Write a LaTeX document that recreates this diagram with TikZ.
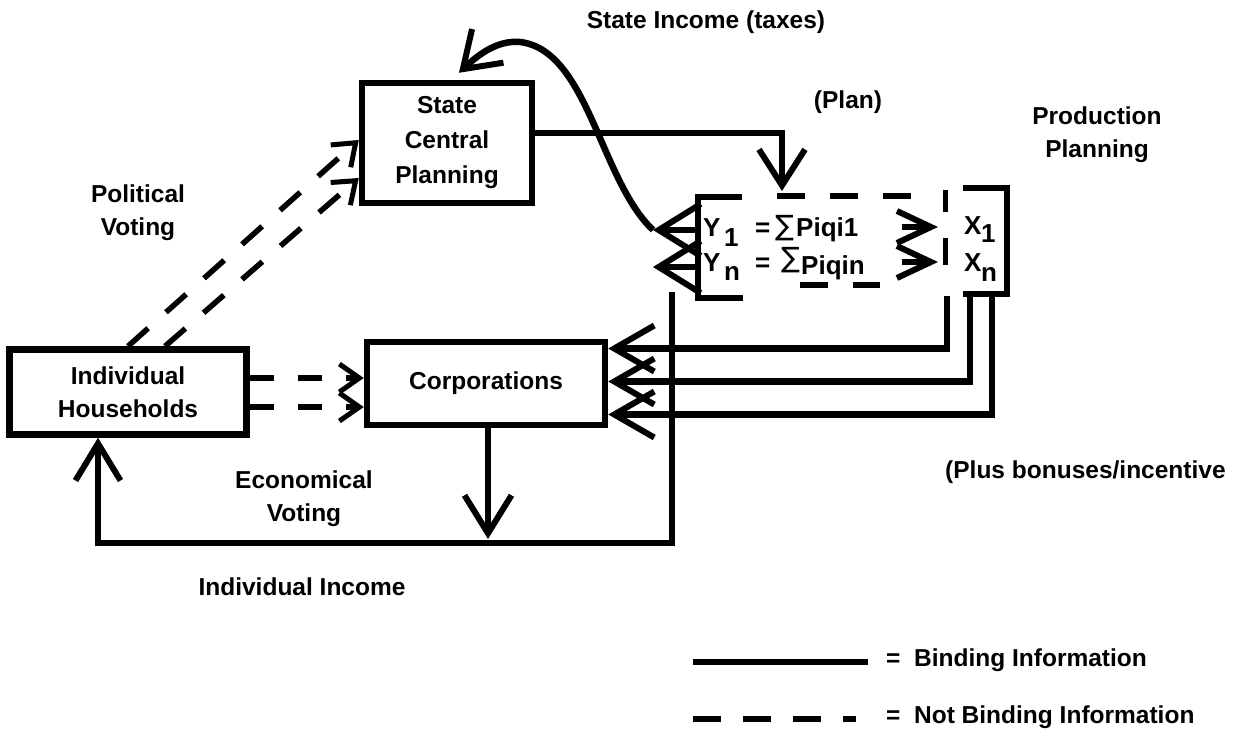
\documentclass[tikz,border=0pt]{standalone}
\usepackage{fontspec}
\setmainfont{Liberation Sans}
\newfontfamily\symfont{DejaVu Sans}
\usetikzlibrary{arrows.meta}
\tikzset{
  tipPlan/.tip={Straight Barb[length=36pt,width=46pt,line width=6pt]},
  tipY/.tip={Straight Barb[length=42pt,width=52pt,line width=6pt]},
  tipTax/.tip={Straight Barb[length=34pt,width=46pt,line width=6pt]},
  tipHH/.tip={Straight Barb[length=37pt,width=45pt,line width=6pt]},
  tipDown/.tip={Straight Barb[length=38pt,width=47pt,line width=6pt]},
  tipC/.tip={Straight Barb[length=40pt,width=46pt,line width=6pt]},
  tipS/.tip={Straight Barb[length=20pt,width=28pt,line width=5pt]},
  tipV/.tip={Straight Barb[length=20pt,width=30pt,line width=5pt]},
  tipX/.tip={Straight Barb[length=34pt,width=32pt,line width=6pt]},
  bind/.style={line width=6.5pt},
  frame/.style={line width=6pt},
  nbind/.style={line width=5.5pt, dash pattern=on 24pt off 24pt},
  nbindD/.style={line width=5.5pt, dash pattern=on 27pt off 24pt},
  dashframe/.style={line width=5.5pt, dash pattern=on 28pt off 25pt},
  box/.style={draw, line width=6.5pt, inner sep=0pt, align=center},
  lbl/.style={align=center, inner sep=0pt},
  eq/.style={anchor=base west, inner sep=0pt, font=\fontsize{26}{26}\selectfont\bfseries},
  sig/.style={anchor=base west, inner sep=0pt, font=\fontsize{28}{28}\selectfont\symfont}
}
\begin{document}
\begin{tikzpicture}[x=1pt,y=-1pt,font=\fontsize{24.5}{33}\selectfont\bfseries]
\useasboundingbox (0,0) rectangle (1251,745);

% boxes
\node[box, minimum width=170pt, minimum height=120pt, font=\fontsize{24.5}{35}\selectfont\bfseries] (scp) at (447,143) {State\\Central\\Planning};
\node[box, minimum width=237pt, minimum height=85pt] (hh) at (128,392) {Individual\\Households};
\node[box, minimum width=238pt, minimum height=83pt] (corp) at (486,383.5) {Corporations};

% labels
\node[lbl] (tax) at (706,22) {State Income (taxes)};
\node[lbl] (plan) at (848,102) {(Plan)};
\node[lbl] (prod) at (1097,135) {Production\\Planning};
\node[lbl] (pol) at (138,213) {Political\\Voting};
\node[lbl] (eco) at (304,499) {Economical\\Voting};
\node[lbl] (inc) at (302,587) {Individual Income};
\node[lbl, anchor=west] (plus) at (945,472) {(Plus bonuses/incentive};

% equations
\node[eq] (y1) at (703,236) {Y};
\node[eq] (y1s) at (724,246) {1};
\node[eq] (e1) at (755,236) {=};
\node[sig] (s1) at (775,235) {∑};
\node[eq] (p1) at (796,236) {Piqi1};
\node[eq] (yn) at (703,271) {Y};
\node[eq] (yns) at (724,280) {n};
\node[eq] (en) at (755,271) {=};
\node[sig] (sn) at (781,267) {∑};
\node[eq] (pn) at (801,274) {Piqin};
\node[eq] (x1) at (964,234) {X};
\node[eq] (x1s) at (981,242) {1};
\node[eq] (xn) at (964,271) {X};
\node[eq] (xns) at (981,281) {n};

% Y / X frame
\coordinate (yf1) at (742,197); \coordinate (yf2) at (698,197);
\coordinate (yf3) at (698,298); \coordinate (yf4) at (743,298);
\draw[frame] (yf1) -- (yf2) -- (yf3) -- (yf4);
\coordinate (xf1) at (963,188); \coordinate (xf2) at (1007,188);
\coordinate (xf3) at (1007,294); \coordinate (xf4) at (963,294);
\draw[frame] (xf1) -- (xf2) -- (xf3) -- (xf4);
\coordinate (td1) at (777,196); \coordinate (td2) at (912,196);
\draw[dashframe] (td1) -- (td2);
\coordinate (bd1) at (800,285); \coordinate (bd2) at (880,285);
\draw[dashframe] (bd1) -- (bd2);
\coordinate (dv1) at (945,190); \coordinate (dv2) at (945,212);
\coordinate (dv3) at (945,238); \coordinate (dv4) at (945,265);
\draw[line width=5pt] (dv1) -- (dv2);
\draw[line width=5pt] (dv3) -- (dv4);

% inner arrows Y -> X
\coordinate (ia1) at (902,227); \coordinate (ib1) at (938,227);
\coordinate (ia2) at (902,262); \coordinate (ib2) at (938,262);
\draw[bind,-{tipX}] (ia1) -- (ib1);
\draw[bind,-{tipX}] (ia2) -- (ib2);

% plan arrow
\coordinate (planT) at (782,191);
\draw[bind,-{tipPlan}] ([yshift=10pt]scp.east) -| (planT);

% Y chevrons
\coordinate (y1e) at (698,230); \coordinate (y1t) at (653,230);
\coordinate (yne) at (698,267); \coordinate (ynt) at (653,267);
\draw[bind,-{tipY}] (y1e) -- (y1t);
\draw[bind,-{tipY}] (yne) -- (ynt);

% state income curve
\coordinate (taxT) at ([xshift=12pt,yshift=7pt]scp.north);
\draw[bind,-{tipTax}] (y1t) .. controls (600,180) and (588,50) .. (520,42)
      .. controls (497,40) and (478,55) .. (taxT);

% individual income loop
\coordinate (vtop) at (672,292);
\coordinate (botR) at (672,543); \coordinate (botL) at (98,543);
\coordinate (hhT) at ([xshift=-30pt]hh.south);
\draw[bind,-{tipHH}] (vtop) -- (botR) -- (botL) -- (hhT);

% corporations down
\coordinate (cdT) at (488,539);
\draw[bind,-{tipDown}] ([xshift=2pt]corp.south) -- (cdT);

% production planning -> corporations
\coordinate (x1b) at (947,296); \coordinate (x2b) at (970,296); \coordinate (x3b) at (992,296);
\draw[bind,-{tipC}] (x1b) |- ([yshift=35pt]corp.east);
\draw[bind,-{tipC}] (x2b) |- ([yshift=2pt]corp.east);
\draw[bind,-{tipC}] (x3b) |- ([yshift=-31pt]corp.east);

% economical voting (dashed)
\draw[nbind,-{tipS}] ([yshift=14pt]hh.east) -- ([yshift=14pt]hh.east -| corp.west);
\draw[nbind,-{tipS}] ([yshift=-15pt]hh.east) -- ([yshift=-15pt]hh.east -| corp.west);

% political voting (dashed)
\draw[nbindD,-{tipV}] (hh.north) -- ([yshift=3pt]scp.west);
\draw[nbindD,-{tipV}] ([xshift=37pt]hh.north) -- ([yshift=-35pt]scp.west);

% legend
\coordinate (l1a) at (693,662); \coordinate (l1b) at (868,662);
\draw[bind] (l1a) -- (l1b);
\node[lbl, anchor=west] (l1t) at (886,660) {= \ Binding Information};
\coordinate (l2a) at (693,719); \coordinate (l2b) at (856,719);
\draw[line width=6.5pt, dash pattern=on 28pt off 22pt] (l2a) -- (l2b);
\node[lbl, anchor=west] (l2t) at (886,717) {= \ Not Binding Information};
\end{tikzpicture}
\end{document}
